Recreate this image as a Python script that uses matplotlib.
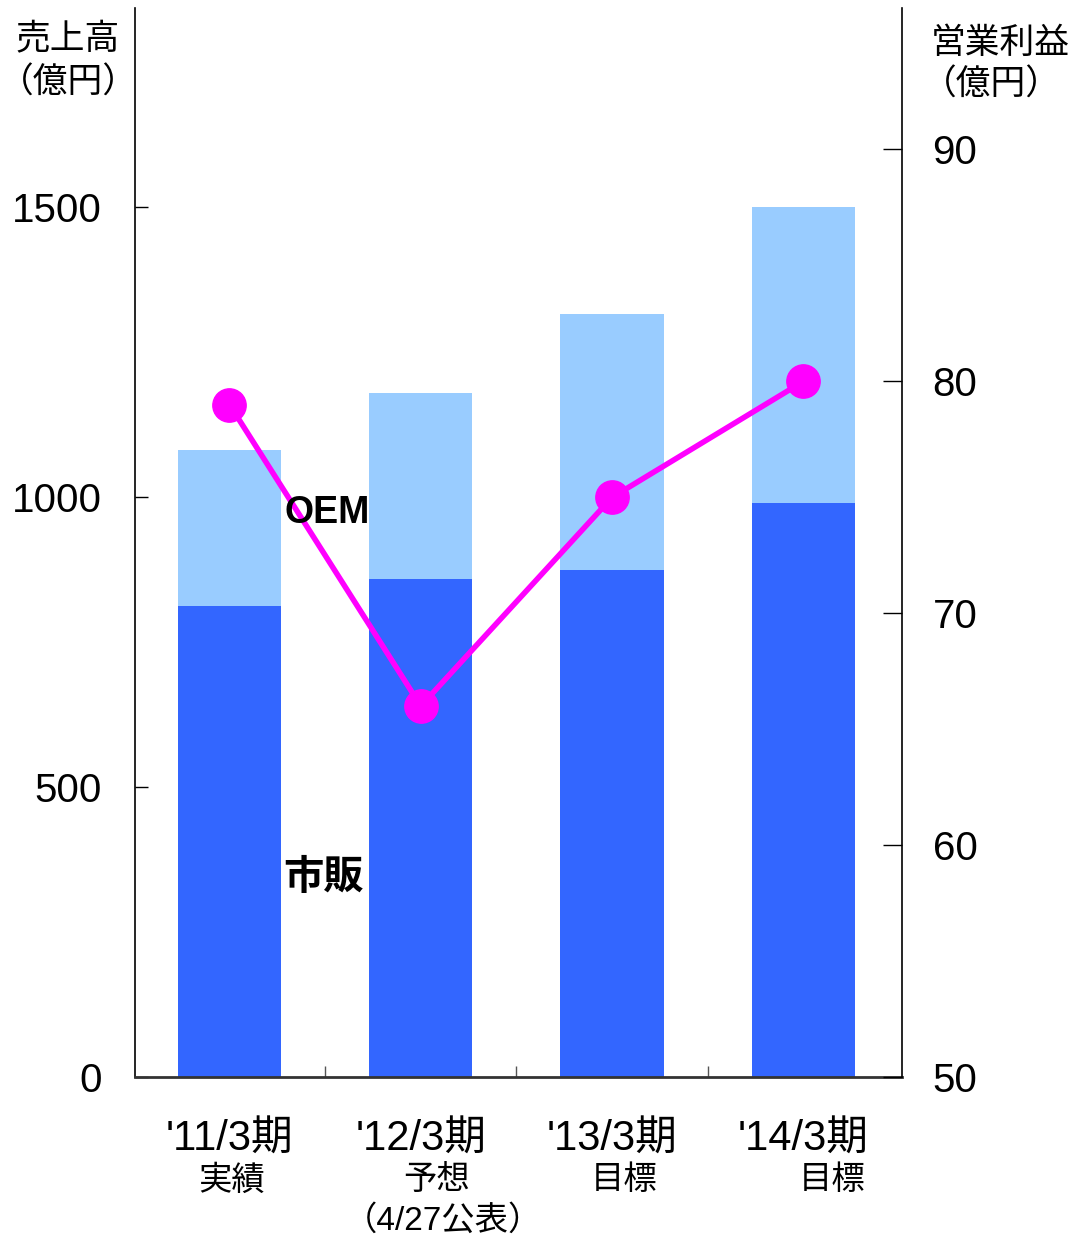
import matplotlib.pyplot as plt
import numpy as np

plt.rcParams['font.family'] = ['Liberation Sans', 'Noto Sans CJK JP', 'DejaVu Sans']

# data
periods = ["'11/3期", "'12/3期", "'13/3期", "'14/3期"]
sub_labels = ["実績", "予想", "目標", "目標"]
retail = [812, 859, 874, 990]       # 市販
oem = [269, 320, 442, 510]          # OEM (stacked on retail)
op_profit = [79, 66, 75, 80]        # 営業利益

dark_blue = "#3366FF"
light_blue = "#99CCFF"
magenta = "#FF00FF"

fig = plt.figure(figsize=(10.72, 12.37), dpi=100)
ax = fig.add_axes([0.1259, 0.1293, 0.7155, 0.8642])

x = np.arange(len(periods))
ax.bar(x, retail, width=0.54, color=dark_blue, zorder=2)
ax.bar(x, oem, width=0.54, bottom=retail, color=light_blue, zorder=2)

ax.set_xlim(-0.494, 3.515)
ax.set_ylim(0, 1843)
ax.set_yticks([0, 500, 1000, 1500])
ax.tick_params(axis='y', direction='in', length=9, width=1, labelsize=29, pad=24)
ax.set_xticks([])
ax.set_xticks([0.5, 1.5, 2.5], minor=True)
ax.tick_params(axis='x', which='minor', direction='in', length=8, width=1, color='#555555')
ax.spines['top'].set_visible(False)
ax.spines['right'].set_visible(False)
ax.spines['bottom'].set_color('#333333')
ax.spines['bottom'].set_linewidth(2)
ax.spines['left'].set_linewidth(1.2)

# operating profit line on right axis
ax2 = ax.twinx()
ax2.plot(x, op_profit, color=magenta, lw=4, marker='o', ms=24, zorder=3)
ax2.set_ylim(50, 96.1)
ax2.set_yticks([50, 60, 70, 80, 90])
ax2.tick_params(axis='y', direction='in', length=14, width=1, labelsize=29, pad=22)
ax2.spines['top'].set_visible(False)
ax2.spines['left'].set_visible(False)
ax2.spines['bottom'].set_visible(False)
ax2.spines['right'].set_linewidth(1.2)

# segment labels (drawn above the line)
ax2.text(0.51, 972, "OEM", transform=ax.transData, fontsize=27, fontweight='bold',
         ha='center', va='center', zorder=5)
ax2.text(0.49, 343, "市販", transform=ax.transData, fontsize=29, fontweight='bold',
         ha='center', va='center', zorder=5)

# category labels
sub_offsets = [0.01, 0.08, 0.06, 0.15]
for i, (p, s) in enumerate(zip(periods, sub_labels)):
    xf = (229.5 + i * 191.33) / 1072
    fig.text(xf, 1 - 1140 / 1237, p, fontsize=30, ha='center', va='center')
    fig.text(xf + sub_offsets[i] * 191.33 / 1072, 1 - 1181 / 1237, s, fontsize=24,
             ha='center', va='center')
fig.text(443 / 1072, 1 - 1221 / 1237, "（4/27公表）", fontsize=24, ha='center', va='center')

# axis titles
fig.text(68 / 1072, 1 - 40 / 1237, "売上高", fontsize=25, ha='center', va='center')
fig.text(68 / 1072, 1 - 83 / 1237, "（億円）", fontsize=25, ha='center', va='center')
fig.text(931 / 1072, 1 - 43 / 1237, "営業利益", fontsize=25, ha='left', va='center')
fig.text(922 / 1072, 1 - 85 / 1237, "（億円）", fontsize=25, ha='left', va='center')

fig.savefig("out.png", dpi=100)
